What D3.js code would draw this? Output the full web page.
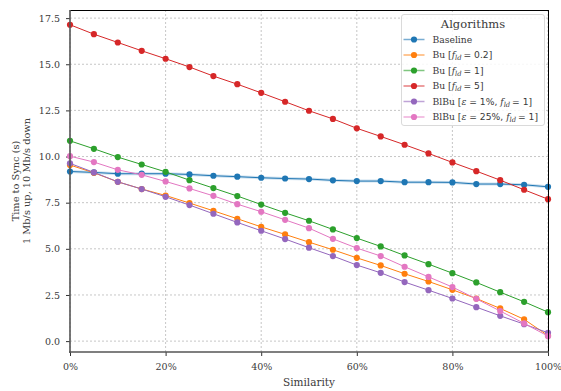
<!DOCTYPE html>
<html>
<head>
<meta charset="utf-8">
<style>
  body { margin: 0; background: #fff; }
  svg text { font-family: "DejaVu Serif", serif; fill: #3a3a3a; }
  .grid line { stroke: #b8b8b8; stroke-dasharray: 2,2; stroke-width: 0.8; }
  .axis text { font-size: 9.5px; }
  .axis line { stroke: #333; }
  .axis path { display: none; }
</style>
</head>
<body>
<svg id="chart" width="561" height="391"></svg>
<script src="https://cdn.jsdelivr.net/npm/d3@7"></script>
<script>
var similarity = [0, 5, 10, 15, 20, 25, 30, 35, 40, 45, 50, 55, 60, 65, 70, 75, 80, 85, 90, 95, 100];

var baseline = [9.19, 9.14, 9.07, 9.07, 9.07, 9.03, 8.96, 8.91, 8.85, 8.81, 8.78, 8.71, 8.67, 8.67, 8.61, 8.61, 8.60, 8.51, 8.51, 8.47, 8.36];
var bu02 = [9.54, 9.12, 8.63, 8.24, 7.89, 7.48, 7.06, 6.63, 6.19, 5.78, 5.36, 4.95, 4.51, 4.10, 3.65, 3.23, 2.78, 2.31, 1.77, 1.18, 0.30];
var bu1 = [10.85, 10.42, 9.97, 9.57, 9.17, 8.72, 8.29, 7.86, 7.40, 6.95, 6.52, 6.05, 5.58, 5.13, 4.64, 4.17, 3.68, 3.18, 2.65, 2.13, 1.57];
var bu5 = [17.14, 16.63, 16.18, 15.73, 15.30, 14.85, 14.36, 13.92, 13.45, 12.97, 12.48, 12.04, 11.53, 11.09, 10.64, 10.17, 9.68, 9.21, 8.72, 8.20, 7.69];
var blbu1 = [9.63, 9.14, 8.63, 8.24, 7.82, 7.37, 6.90, 6.43, 5.98, 5.53, 5.06, 4.61, 4.12, 3.70, 3.20, 2.76, 2.31, 1.84, 1.37, 0.92, 0.45];
var blbu25 = [10.02, 9.70, 9.28, 9.01, 8.65, 8.27, 7.87, 7.42, 7.01, 6.57, 6.12, 5.54, 5.04, 4.61, 4.03, 3.48, 2.93, 2.29, 1.63, 0.96, 0.27];

var xTicks = [0, 20, 40, 60, 80, 100];
var yTicks = [0, 2.5, 5, 7.5, 10, 12.5, 15, 17.5];

var series = [
  { name: "Baseline", values: baseline, color: "#1f77b4" },
  { name: "bu02", values: bu02, color: "#ff7f0e" },
  { name: "bu1", values: bu1, color: "#2ca02c" },
  { name: "bu5", values: bu5, color: "#d62728" },
  { name: "blbu1", values: blbu1, color: "#9467bd" },
  { name: "blbu25", values: blbu25, color: "#e377c2" }
];

var svg = d3.select("#chart");
var pLeft = 70, pRight = 548, pTop = 10, pBottom = 352;

var x = d3.scaleLinear().domain([0, 100]).range([pLeft, pRight]);
var y = d3.scaleLinear().domain([-0.59, 17.94]).range([pBottom, pTop]);

// grid
var grid = svg.append("g").attr("class", "grid");
grid.selectAll(".gx").data(xTicks).enter().append("line")
  .attr("x1", function(d) { return x(d); }).attr("x2", function(d) { return x(d); })
  .attr("y1", pTop).attr("y2", pBottom);
grid.selectAll(".gy").data(yTicks).enter().append("line")
  .attr("x1", pLeft).attr("x2", pRight)
  .attr("y1", function(d) { return y(d); }).attr("y2", function(d) { return y(d); });

// axes
svg.append("g").attr("class", "axis")
  .attr("transform", "translate(0," + pBottom + ")")
  .call(d3.axisBottom(x).tickValues(xTicks).tickSize(4).tickPadding(7)
    .tickFormat(function(d) { return d + "%"; }));
svg.append("g").attr("class", "axis")
  .attr("transform", "translate(" + pLeft + ",0)")
  .call(d3.axisLeft(y).tickValues(yTicks).tickSize(4).tickPadding(6)
    .tickFormat(d3.format(".1f")));

// lines and points
var line = d3.line()
  .x(function(d, i) { return x(similarity[i]); })
  .y(function(d) { return y(d); });

// light band around baseline
svg.append("path")
  .attr("d", line(baseline))
  .attr("fill", "none").attr("stroke", "#1f77b4")
  .attr("stroke-opacity", 0.22).attr("stroke-width", 3);

series.forEach(function(s) {
  var g = svg.append("g");
  g.append("path")
    .attr("d", line(s.values))
    .attr("fill", "none")
    .attr("stroke", s.color)
    .attr("stroke-width", 1);
  g.selectAll("circle").data(s.values).enter().append("circle")
    .attr("cx", function(d, i) { return x(similarity[i]); })
    .attr("cy", function(d) { return y(d); })
    .attr("r", 3.1)
    .attr("fill", s.color);
});

// spines
svg.append("line").attr("x1", pLeft).attr("x2", pRight).attr("y1", pTop + 0.5).attr("y2", pTop + 0.5)
  .attr("stroke", "#000").attr("stroke-width", 1);
svg.append("line").attr("x1", pRight + 0.5).attr("x2", pRight + 0.5).attr("y1", pTop).attr("y2", pBottom)
  .attr("stroke", "#000").attr("stroke-width", 1);
svg.append("line").attr("x1", pLeft).attr("x2", pLeft).attr("y1", pTop).attr("y2", pBottom + 1)
  .attr("stroke", "#555").attr("stroke-width", 1.6);
svg.append("line").attr("x1", pLeft - 1).attr("x2", pRight + 1).attr("y1", pBottom).attr("y2", pBottom)
  .attr("stroke", "#555").attr("stroke-width", 1.6);

// axis labels
svg.append("text").attr("x", (pLeft + pRight) / 2).attr("y", 386)
  .attr("text-anchor", "middle").attr("font-size", 10.5).text("Similarity");
var yl = svg.append("text").attr("transform", "translate(18.5," + ((pTop + pBottom) / 2) + ") rotate(-90)")
  .attr("text-anchor", "middle").attr("font-size", 9.8);
yl.append("tspan").attr("x", 0).attr("dy", 0).text("Time to Sync (s)");
yl.append("tspan").attr("x", 0).attr("dy", 11).text("1 Mb/s up, 10 Mb/s down");

// legend
var lg = svg.append("g").attr("transform", "translate(401.5,14.5)");
lg.append("rect").attr("width", 143).attr("height", 111).attr("rx", 2.5)
  .attr("fill", "#fff").attr("fill-opacity", 0.85).attr("stroke", "#d0d0d0").attr("stroke-width", 0.8);
lg.append("text").attr("x", 71.5).attr("y", 13.8).attr("text-anchor", "middle")
  .attr("font-size", 11.5).text("Algorithms");

var sans = "DejaVu Sans";
function fld(t) {
  t.append("tspan").attr("font-style", "italic").text("f");
  t.append("tspan").attr("font-style", "italic").attr("font-size", 6.8).attr("dy", 2).text("ld");
  t.append("tspan").attr("dy", -2).text("\u2009");
}
var legendText = [
  function(t) { t.text("Baseline"); },
  function(t) { t.append("tspan").text("Bu ["); fld(t); t.append("tspan").attr("font-family", sans).text("= 0.2"); t.append("tspan").text("]"); },
  function(t) { t.append("tspan").text("Bu ["); fld(t); t.append("tspan").attr("font-family", sans).text("= 1"); t.append("tspan").text("]"); },
  function(t) { t.append("tspan").text("Bu ["); fld(t); t.append("tspan").attr("font-family", sans).text("= 5"); t.append("tspan").text("]"); },
  function(t) {
    t.append("tspan").text("BlBu [");
    t.append("tspan").attr("font-style", "italic").text("\u03b5");
    t.append("tspan").attr("font-family", sans).text(" = 1%, ");
    fld(t); t.append("tspan").attr("font-family", sans).text("= 1"); t.append("tspan").text("]");
  },
  function(t) {
    t.append("tspan").text("BlBu [");
    t.append("tspan").attr("font-style", "italic").text("\u03b5");
    t.append("tspan").attr("font-family", sans).text(" = 25%, ");
    fld(t); t.append("tspan").attr("font-family", sans).text("= 1"); t.append("tspan").text("]");
  }
];

series.forEach(function(s, i) {
  var row = lg.append("g").attr("transform", "translate(0," + (25 + i * 15.5) + ")");
  row.append("line").attr("x1", 2).attr("x2", 23).attr("y1", 0).attr("y2", 0)
    .attr("stroke", s.color).attr("stroke-width", 1.5).attr("stroke-opacity", 0.6);
  row.append("circle").attr("cx", 12.5).attr("cy", 0).attr("r", 3.1).attr("fill", s.color);
  var t = row.append("text").attr("x", 31).attr("y", 3.3).attr("font-size", 9.2);
  legendText[i](t);
});
</script>
</body>
</html>
